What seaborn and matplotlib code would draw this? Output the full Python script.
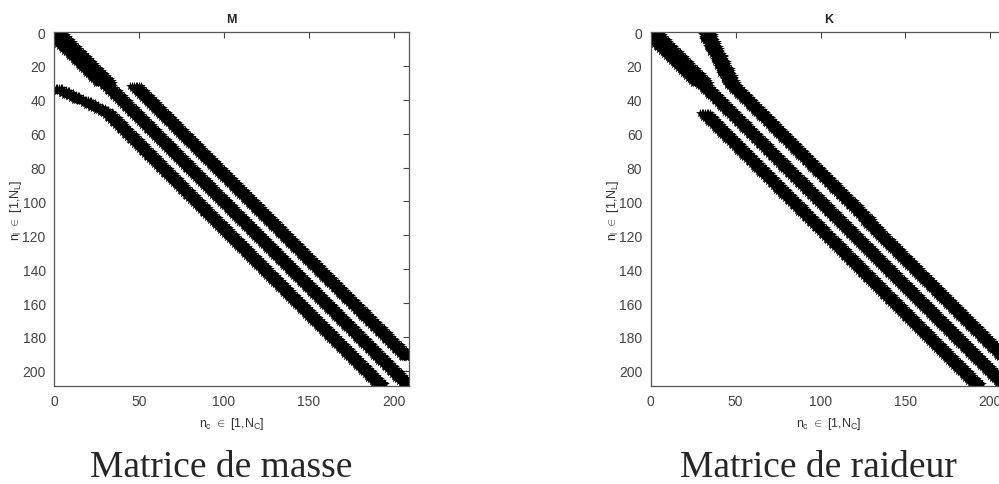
import numpy as np
import pandas as pd
import matplotlib
matplotlib.use("Agg")
import matplotlib.pyplot as plt
import seaborn as sns

# ---- data: sparsity bands (row_start, col_start, row_end, col_end, half_width) ----
N = 208
M_bands = [
    (1, 1, 30, 30, 5),
    (30, 30, 208, 208, 3),
    (32, 48, 192, 208, 3),
    (33, 1, 47, 31, 3),
    (47, 31, 208, 192, 3),
]
K_bands = [
    (1, 1, 30, 30, 5),
    (30, 30, 208, 208, 3),
    (1, 33, 31, 48, 3),
    (31, 48, 192, 208, 3),
    (48, 32, 208, 192, 3),
]
titles = ["M", "K"]
captions = ["Matrice de masse", "Matrice de raideur"]
xticks = [0, 50, 100, 150, 200]
yticks = [0, 20, 40, 60, 80, 100, 120, 140, 160, 180, 200]


def nonzeros(bands, n):
    mask = np.zeros((n + 1, n + 1), dtype=bool)
    for r0, c0, r1, c1, hw in bands:
        steps = max(abs(r1 - r0), abs(c1 - c0))
        for k in range(steps + 1):
            r = int(round(r0 + (r1 - r0) * k / steps))
            c = int(round(c0 + (c1 - c0) * k / steps))
            for d in range(-hw, hw + 1):
                cc = c + d
                if 1 <= cc <= n and 1 <= r <= n:
                    mask[r, cc] = True
    rr, cc = np.nonzero(mask)
    return pd.DataFrame({"row": rr, "col": cc})


sns.set_style("white")
plt.rcParams["font.family"] = ["Liberation Sans", "DejaVu Sans"]
plt.rcParams["mathtext.fontset"] = "custom"
plt.rcParams["mathtext.rm"] = "Liberation Sans"
plt.rcParams["mathtext.it"] = "Liberation Sans"

fig = plt.figure(figsize=(9.99, 4.85), dpi=100)
W, H = 999, 485
axes_px = [(54, 33, 355, 354), (650.7, 33, 355, 354)]
caption_x = [221, 818]

for i, bands in enumerate([M_bands, K_bands]):
    x0, y0, w, h = axes_px[i]
    ax = fig.add_axes([x0 / W, 1 - (y0 + h) / H, w / W, h / H])
    df = nonzeros(bands, N)
    sns.scatterplot(data=df, x="col", y="row", ax=ax, marker="*", s=45,
                    color="black", linewidth=0, legend=False)
    ax.set_xlim(0, N + 1)
    ax.set_ylim(N + 1, 0)
    ax.set_xticks(xticks)
    ax.set_yticks(yticks)
    ax.tick_params(direction="in", top=True, right=True, length=4, width=0.8,
                   labelsize=10, colors="#444444", pad=6)
    for sp in ax.spines.values():
        sp.set_color("#555555")
        sp.set_linewidth(0.9)
    ax.set_title(titles[i], fontsize=9, fontweight="bold", pad=7)
    ax.set_xlabel(r"$n_c$ $\in$ [1,$N_C$]", fontsize=9, color="#333333", labelpad=5)
    ax.set_ylabel(r"$n_l$ $\in$ [1,$N_L$]", fontsize=9, color="#333333")
    ax.yaxis.set_label_coords(-0.085, 0.5)
    fig.text(caption_x[i] / W, 1 - 468 / H, captions[i], ha="center", va="center",
             fontsize=27, family="Liberation Serif")

fig.savefig("out.png", dpi=100)
